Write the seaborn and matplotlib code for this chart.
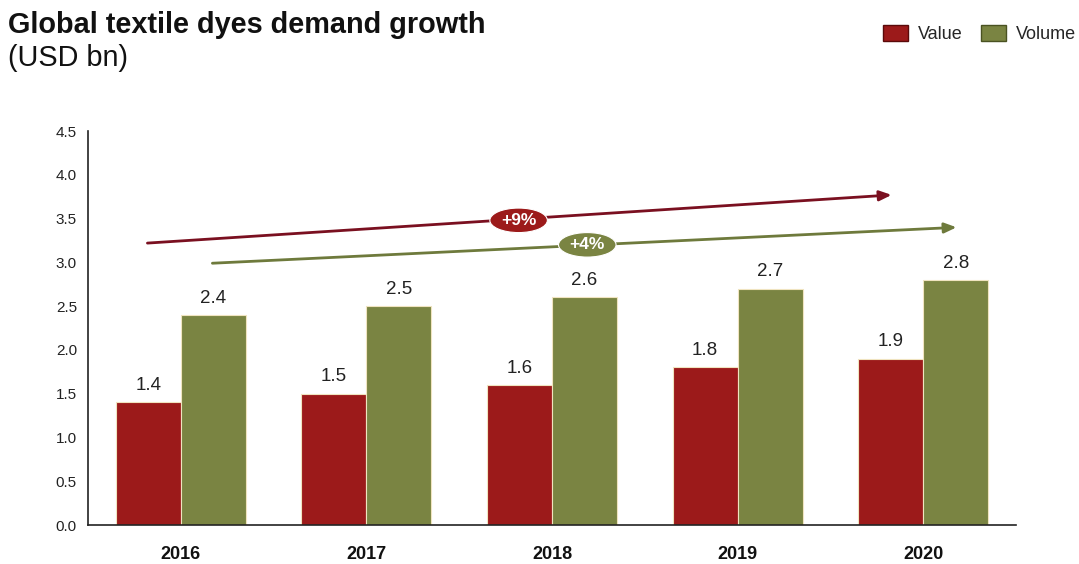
import matplotlib
matplotlib.use("Agg")
import matplotlib.pyplot as plt
from matplotlib.patches import Ellipse, Patch
import seaborn as sns
import pandas as pd

years = ["2016", "2017", "2018", "2019", "2020"]
value_usd = [1.4, 1.5, 1.6, 1.8, 1.9]
volume_usd = [2.4, 2.5, 2.6, 2.7, 2.8]
series_names = ["Value", "Volume"]
y_ticks = [0.0, 0.5, 1.0, 1.5, 2.0, 2.5, 3.0, 3.5, 4.0, 4.5]
cagr_labels = ["+9%", "+4%"]

RED = "#9c1a1a"
GREEN = "#7a8442"
RED_DARK = "#7a1020"
GREEN_DARK = "#6e7a3c"

df = pd.DataFrame({
    "year": years * 2,
    "usd": value_usd + volume_usd,
    "series": [series_names[0]] * len(years) + [series_names[1]] * len(years),
})

sns.set_theme(style="white")
plt.rcParams["font.family"] = ["Liberation Sans", "DejaVu Sans"]

fig = plt.figure(figsize=(10.79, 5.64), dpi=100)
ax = fig.add_axes([0.0816, 0.0691, 0.86, 0.6986])

sns.barplot(data=df, x="year", y="usd", hue="series", order=years,
            hue_order=series_names, palette=[RED, GREEN], width=0.7,
            saturation=1, edgecolor="#f0e4c0", linewidth=0.8, ax=ax, legend=False)

for cont in ax.containers:
    ax.bar_label(cont, labels=[f"{v:.1f}" for v in cont.datavalues],
                 padding=6, fontsize=13.5, color="#222222")

ax.set_ylim(0, 4.5)
ax.set_xlim(-0.5, len(years) - 0.5)
ax.set_yticks(y_ticks)
ax.set_yticklabels([f"{t:.1f}" for t in y_ticks], fontsize=11, color="#222222")
ax.set_xticks(range(len(years)))
ax.set_xticklabels(years, fontsize=13, fontweight="bold", color="#111111")
ax.set_xlabel("")
ax.set_ylabel("")

# Category separators as outward ticks on the x axis
ax.set_xticks([i + 0.5 for i in range(len(years))], minor=True)
ax.tick_params(axis="x", which="major", length=0, pad=15)
ax.tick_params(axis="x", which="minor", length=4, width=1, color="#222222", direction="out")
ax.tick_params(axis="y", length=4, width=1, color="#222222", direction="out", pad=4)

for side in ["top", "right"]:
    ax.spines[side].set_visible(False)
for side in ["left", "bottom"]:
    ax.spines[side].set_color("#222222")
    ax.spines[side].set_linewidth(1.2)

# Growth arrows with CAGR badges
arrows = [
    ((-0.18, 3.22), (3.83, 3.77), RED_DARK, (1.82, 3.48), cagr_labels[0], RED),
    ((0.17, 2.99), (4.18, 3.40), GREEN_DARK, (2.19, 3.20), cagr_labels[1], GREEN),
]
for start, end, lc, center, lab, fc in arrows:
    ax.annotate("", xy=end, xytext=start,
                arrowprops=dict(arrowstyle="-|>,head_length=0.6,head_width=0.25",
                                color=lc, lw=2, shrinkA=0, shrinkB=0))
    ax.add_patch(Ellipse(center, width=0.31, height=0.28, facecolor=fc,
                         edgecolor="white", linewidth=0.8, zorder=5))
    ax.text(center[0], center[1], lab, ha="center", va="center", color="white",
            fontsize=12.5, fontweight="bold", zorder=6)

# Titles
fig.text(0.007, 0.956, "Global textile dyes demand growth", fontsize=20.8,
         fontweight="bold", ha="left", va="center", color="#111111")
fig.text(0.007, 0.897, "(USD bn)", fontsize=20.8, ha="left", va="center", color="#111111")

handles = [Patch(facecolor=RED, edgecolor="#5a0a0a", label=series_names[0]),
           Patch(facecolor=GREEN, edgecolor="#4a5222", label=series_names[1])]
fig.legend(handles=handles, loc="center right", bbox_to_anchor=(1.007, 0.94),
           ncol=2, frameon=False, fontsize=13, handlelength=1.38, handleheight=1.0,
           columnspacing=1.0, handletextpad=0.55, borderaxespad=0.2)

fig.savefig("out.png", dpi=100)
